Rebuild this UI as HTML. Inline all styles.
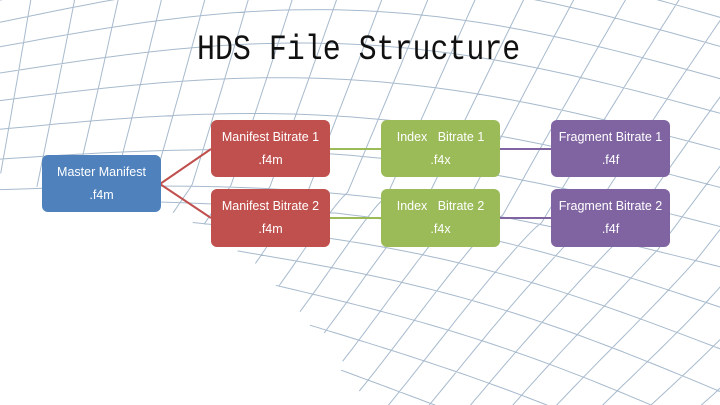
<!DOCTYPE html>
<html><head><meta charset="utf-8"><style>
html,body{margin:0;padding:0;width:720px;height:405px;overflow:hidden;background:#fff}
#wrap{position:relative;width:720px;height:405px;overflow:hidden}
svg{position:absolute;left:0;top:0}
.t{position:absolute;left:197px;top:30px;font-family:"Liberation Mono",monospace;font-size:35px;color:#111;transform:scaleX(0.855);transform-origin:0 0;white-space:nowrap}
.b{position:absolute;width:119px;height:57px;border-radius:6px;color:#fff;font-family:"Liberation Sans",sans-serif;font-size:12.5px;text-align:center;line-height:23px;padding-top:6px;box-sizing:border-box}
.bl{background:#4f81bd}.r{background:#c0504d}.g{background:#9bbb59}.p{background:#8064a2}
</style></head><body><div id="wrap">
<svg id="mesh" width="720" height="405"></svg>
<div class="t">HDS File Structure</div>
<svg width="720" height="405">
<path d="M160 184 L211 149 M160 184 L211 218" stroke="#c0504d" stroke-width="2" fill="none"/>
<path d="M330 149 H381 M330 218 H381" stroke="#9bbb59" stroke-width="2"/>
<path d="M499 149 H551 M499 218 H551" stroke="#8064a2" stroke-width="2"/>
</svg>
<div class="b bl" style="left:42px;top:155px">Master Manifest<br>.f4m</div>
<div class="b r" style="left:211px;top:120px">Manifest Bitrate 1<br>.f4m</div>
<div class="b r" style="left:211px;top:189px;height:58px">Manifest Bitrate 2<br>.f4m</div>
<div class="b g" style="left:381px;top:120px">Index&nbsp;&nbsp; Bitrate 1<br>.f4x</div>
<div class="b g" style="left:381px;top:189px;height:58px">Index&nbsp;&nbsp; Bitrate 2<br>.f4x</div>
<div class="b p" style="left:551px;top:120px">Fragment Bitrate 1<br>.f4f</div>
<div class="b p" style="left:551px;top:189px;height:58px">Fragment Bitrate 2<br>.f4f</div>
</div>
<script>
(function(){
var s=document.getElementById('mesh'),ns='http://www.w3.org/2000/svg';
function L(v){ if(v<0.45) return [0,v/0.45*190]; var w=(v-0.45)/0.55; return [370*Math.sqrt(w),190+230*Math.pow(w,1.5)]; }
function R(v){ return [730,20+v*555]; }
function rowY(v,x){var l=L(v),r=R(v);var t=(x-l[0])/(r[0]-l[0]);return l[1]+(r[1]-l[1])*t-60*(1-v)*Math.sin(Math.PI*t);}
var d='';
var NR=15;
for(var j=0;j<=NR;j++){var v=-0.04+1.04*Math.pow(j/NR,1.2);var l=L(v);d+='M';
 for(var i=0;i<=50;i++){var x=l[0]+(730-l[0])*i/50;d+=x.toFixed(1)+' '+rowY(v,x).toFixed(1)+' ';}}
for(var X0=-60;X0<=1000;X0+=46){var first=true;
 for(var j=0;j<=60;j++){var v=-0.04+1.04*j/60;var x=X0-v*170-v*(X0-300)*0.35;
  if(x<L(v)[0]||x>740){ if(!first) break; else continue;}
  var y=rowY(v,x);d+=(first?'M':'L')+x.toFixed(1)+' '+y.toFixed(1)+' ';first=false;}}
var e=document.createElementNS(ns,'path');e.setAttribute('d',d);e.setAttribute('fill','none');e.setAttribute('stroke','#a7bacd');e.setAttribute('stroke-width','1');s.appendChild(e);
})();
</script>
</body></html>
